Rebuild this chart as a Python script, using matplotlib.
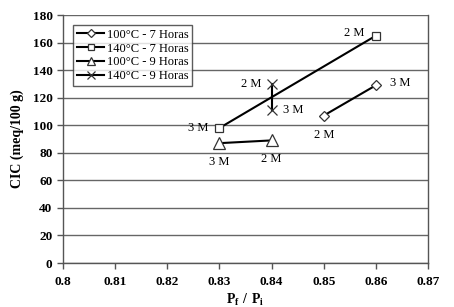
import matplotlib.pyplot as plt

plt.rcParams['font.family'] = ['Liberation Serif', 'DejaVu Serif']
plt.rcParams['mathtext.fontset'] = 'custom'
plt.rcParams['mathtext.rm'] = 'Liberation Serif'
plt.rcParams['mathtext.bf'] = 'Liberation Serif:bold'

# data
labels = ['100\u00b0C - 7 Horas', '140\u00b0C - 7 Horas', '100\u00b0C - 9 Horas', '140\u00b0C - 9 Horas']
markers = ['D', 's', '^', 'x']
msizes = [5, 6, 8, 7]
x_100_7 = [0.85, 0.86]
y_100_7 = [107, 129]
x_140_7 = [0.83, 0.86]
y_140_7 = [98, 165]
x_100_9 = [0.83, 0.84]
y_100_9 = [87, 89]
x_140_9 = [0.84, 0.84]
y_140_9 = [130, 111]
series_x = [x_100_7, x_140_7, x_100_9, x_140_9]
series_y = [y_100_7, y_140_7, y_100_9, y_140_9]

# concentration annotations (text, x, y, dx pt, dy pt, ha, va)
notes = [
    ('2 M', 0.86, 165, -8, 2, 'right', 'center'),
    ('3 M', 0.86, 129, 10, 2, 'left', 'center'),
    ('2 M', 0.85, 107, 0, -10, 'center', 'top'),
    ('2 M', 0.84, 130, -7, 0, 'right', 'center'),
    ('3 M', 0.84, 111, 8, 0, 'left', 'center'),
    ('3 M', 0.83, 98, -8, 0, 'right', 'center'),
    ('3 M', 0.83, 87, 0, -9, 'center', 'top'),
    ('2 M', 0.84, 89, 0, -9, 'center', 'top'),
]

fig = plt.figure(figsize=(4.54, 3.07), dpi=100)
ax = fig.add_axes([0.1388, 0.1433, 0.8039, 0.8077])

for xs, ys, m, ms, lab in zip(series_x, series_y, markers, msizes, labels):
    ax.plot(xs, ys, color='black', lw=1.5, marker=m, markersize=ms,
            markerfacecolor='white', markeredgecolor='#333333',
            markeredgewidth=0.9, label=lab, zorder=3)

for t, x, y, dx, dy, ha, va in notes:
    ax.annotate(t, (x, y), xytext=(dx, dy), textcoords='offset points',
                ha=ha, va=va, fontsize=9)

ax.set_xlim(0.8, 0.87)
ax.set_ylim(0, 180)
ax.set_xticks([0.8, 0.81, 0.82, 0.83, 0.84, 0.85, 0.86, 0.87])
ax.set_xticklabels(['0.8', '0.81', '0.82', '0.83', '0.84', '0.85', '0.86', '0.87'])
ax.set_yticks(range(0, 181, 20))
ax.tick_params(labelsize=9.5, length=4, width=1, color='#555555')
ax.tick_params(axis='x', pad=5)
for lab in ax.get_xticklabels() + ax.get_yticklabels():
    lab.set_fontweight('bold')
ax.yaxis.grid(True, color='#666666', lw=1)
ax.set_axisbelow(True)
for s in ax.spines.values():
    s.set_color('#555555')
    s.set_linewidth(1)
ax.spines['top'].set_visible(False)

ax.set_xlabel(r'$\mathbf{P_f\ /\ P_i}$', fontsize=10, labelpad=3)
ax.set_ylabel('CIC (meq/100 g)', fontsize=10, fontweight='bold', labelpad=6)

leg = ax.legend(loc='upper left', bbox_to_anchor=(0.028, 0.96), fontsize=9,
                frameon=True, fancybox=False, edgecolor='#333333',
                handlelength=2.2, borderpad=0.3, labelspacing=0.15,
                handletextpad=0.2, borderaxespad=0, markerscale=0.8)
leg.get_frame().set_linewidth(1)

fig.savefig('out.png', dpi=100)
